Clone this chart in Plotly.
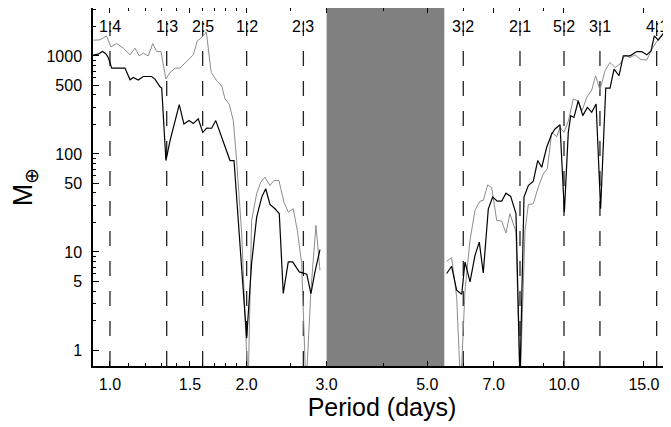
import math

import plotly.graph_objects as go

# planet period (days) and the resonances marked on the chart
P_PLANET = 4.0
res_labels = ["1:4", "1:3", "2:5", "1:2", "2:3", "3:2", "2:1", "5:2", "3:1", "4:1"]

# unstable (shaded) period range, days
band = (3.0, 5.45)

# inner region, black curve
p_in_black = [0.919, 0.942, 0.962, 0.978, 0.991, 1.009, 1.035, 1.079, 1.107, 1.126,
              1.154, 1.184, 1.235, 1.256, 1.289, 1.300, 1.328, 1.356, 1.421, 1.455,
              1.493, 1.526, 1.565, 1.601, 1.633, 1.675, 1.710, 1.747, 1.801, 1.838,
              1.876, 2.000, 2.051, 2.104, 2.159, 2.203, 2.251, 2.309, 2.360, 2.408,
              2.470, 2.526, 2.612, 2.666, 2.713, 2.771, 2.828, 2.901]
m_in_black = [1019, 1043, 1109, 1058, 963, 751, 751, 751, 571, 603,
              567, 617, 617, 581, 485, 470, 85.7, 137, 318, 202,
              219, 205, 228, 166, 184, 183, 219, 166, 108, 85.7,
              85.7, 1.32, 7.67, 22.7, 36.3, 44.2, 30.6, 27.6, 24.6, 3.77,
              7.91, 7.91, 6.26, 6.03, 5.93, 3.77, 6.26, 10.6]

# inner region, gray curve
p_in_gray = [0.919, 0.950, 0.983, 1.004, 1.035, 1.070, 1.107, 1.135, 1.160, 1.184,
             1.214, 1.242, 1.267, 1.295, 1.328, 1.356, 1.390, 1.426, 1.526, 1.557,
             1.592, 1.630, 1.671, 1.718, 1.762, 1.792, 1.831, 1.869, 1.901, 1.950,
             2.015, 2.051, 2.104, 2.148, 2.194, 2.251, 2.297, 2.356, 2.416, 2.470,
             2.533, 2.586, 2.644, 2.702, 2.771, 2.842, 2.901]
m_in_gray = [1448, 1458, 1601, 1238, 1337, 1200, 1026, 1200, 1002, 1068,
             1002, 1337, 1109, 1109, 581, 678, 751, 751, 1026, 1425,
             1539, 1759, 678, 558, 496, 364, 323, 219, 85.7, 15.5,
             0.4, 21.0, 39.3, 51.5, 57.9, 47.7, 53.6, 53.6, 32.3, 25.5,
             27.6, 16.6, 7.62, 0.4, 4.08, 18.7, 6.51]

# outer region, black curve
p_out_black = [5.515, 5.656, 5.802, 5.953, 6.053, 6.209, 6.368, 6.508, 6.641, 6.813,
               6.966, 7.130, 7.291, 7.451, 7.631, 7.839, 8.000, 8.164, 8.345, 8.559,
               8.752, 8.932, 9.160, 9.396, 9.556, 9.800, 10.02, 10.22, 10.35, 10.52,
               10.75, 11.00, 11.26, 11.51, 11.77, 12.04, 12.36, 12.63, 12.89, 13.22,
               13.51, 13.98, 14.46, 14.83, 15.21, 15.55, 15.81, 16.13, 16.60, 16.97,
               17.29]
m_out_black = [6.03, 7.15, 4.08, 3.71, 7.91, 4.95, 9.25, 12.6, 6.12, 27.6,
               36.3, 33.0, 33.0, 39.8, 36.9, 24.6, 0.5, 36.3, 47.7, 52.8,
               85.7, 73.2, 117, 160, 180, 199, 25.5, 166, 246, 236,
               349, 246, 299, 266, 323, 27.6, 470, 470, 734, 628,
               1002, 1002, 1109, 1109, 1026, 1127, 1601, 1448, 1730, 2106,
               2385]

# outer region, gray curve
p_out_gray = [5.515, 5.656, 5.802, 5.922, 6.053, 6.209, 6.368, 6.531, 6.641, 6.791,
              6.931, 7.109, 7.291, 7.451, 7.603, 7.839, 8.000, 8.207, 8.345, 8.559,
              8.778, 9.003, 9.188, 9.268, 9.396, 9.638, 9.800, 10.00, 10.22, 10.48,
              10.73, 10.96, 11.22, 11.51, 11.74, 12.00, 12.31, 12.63, 12.95, 13.28,
              13.63, 13.98, 14.33, 14.71, 15.21, 15.61, 15.87, 16.22, 16.60, 17.12]
m_out_gray = [8.04, 8.77, 3.48, 0.4, 4.08, 13.2, 26.6, 33.0, 33.6, 48.5,
              45.2, 21.0, 20.7, 15.6, 24.6, 16.0, 0.4, 16.6, 30.4, 31.1,
              45.9, 62.7, 70.5, 103, 166, 150, 187, 166, 215, 364,
              349, 276, 377, 449, 628, 449, 705, 857, 762, 825,
              1019, 963, 1026, 928, 906, 1173, 1319, 1539, 1666, 1425]

x_ticks = [1.0, 1.5, 2.0, 3.0, 5.0, 7.0, 10.0, 15.0]
y_ticks = [1, 5, 10, 50, 100, 500, 1000]

FONT = "Liberation Sans, Arial, sans-serif"

fig = go.Figure()

# shaded band
fig.add_shape(type="rect", xref="x", yref="paper", x0=band[0], x1=band[1], y0=0, y1=1,
              fillcolor="#808080", line_width=0, layer="below")

# resonance lines and labels
for lab in res_labels:
    a, b = (int(v) for v in lab.split(":"))
    per = P_PLANET * a / b
    fig.add_shape(type="line", xref="x", yref="paper", x0=per, x1=per, y0=0, y1=1,
                  line=dict(color="#222222", width=1.3, dash="15px,15px"), layer="below")
    fig.add_annotation(x=math.log10(per), y=0.947, xref="x", yref="paper", text=lab,
                       showarrow=False, font=dict(size=16, color="black", family=FONT),
                       xanchor="center", yanchor="middle")

for px, mx, col, w in [
    (p_in_gray, m_in_gray, "#8c8c8c", 1.0),
    (p_out_gray, m_out_gray, "#8c8c8c", 1.0),
    (p_in_black, m_in_black, "black", 1.2),
    (p_out_black, m_out_black, "black", 1.2),
]:
    fig.add_trace(go.Scatter(x=px, y=mx, mode="lines", line=dict(color=col, width=w),
                             showlegend=False, hoverinfo="skip"))

x_minor = [1.1, 1.2, 1.3, 1.4, 1.6, 1.7, 1.8, 1.9, 2.5, 4, 6, 8, 9]
y_minor = [2, 3, 4, 6, 7, 8, 9, 20, 30, 40, 60, 70, 80, 90,
           200, 300, 400, 600, 700, 800, 900, 2000, 3000]

fig.update_xaxes(
    type="log", range=[-0.0374, 1.2357],
    tickmode="array", tickvals=x_ticks, ticktext=[f"{v:.1f}" for v in x_ticks],
    ticks="inside", ticklen=5, tickwidth=1.2, tickcolor="black",
    minor=dict(tickmode="array", tickvals=x_minor, ticks="inside", ticklen=3,
               tickcolor="black", showgrid=False),
    showline=True, linecolor="black", linewidth=1.5, mirror="ticks",
    showgrid=False, zeroline=False,
    tickfont=dict(size=16, color="black", family=FONT), ticklabelstandoff=3,
    title=dict(text="Period (days)", font=dict(size=25, color="black", family=FONT),
               standoff=6),
)
fig.update_yaxes(
    type="log", range=[-0.163, 3.489],
    tickmode="array", tickvals=y_ticks, ticktext=[str(v) for v in y_ticks],
    ticks="inside", ticklen=6, tickwidth=1.2, tickcolor="black",
    minor=dict(tickmode="array", tickvals=y_minor, ticks="inside", ticklen=3,
               tickcolor="black", showgrid=False),
    showline=True, linecolor="black", linewidth=1.5, mirror="ticks",
    showgrid=False, zeroline=False,
    tickfont=dict(size=16, color="black", family=FONT), ticklabelstandoff=6,
    title=dict(text="M<sub>⊕</sub>", font=dict(size=27, color="black", family=FONT),
               standoff=6),
)

# the page puts the figure 8px in from the top-left corner
fig.update_layout(
    width=671, height=427,
    margin=dict(l=85, r=8, t=0, b=69, autoexpand=False),
    plot_bgcolor="white", paper_bgcolor="white",
    font=dict(family=FONT, color="black"),
)

fig.write_html("out.html")
